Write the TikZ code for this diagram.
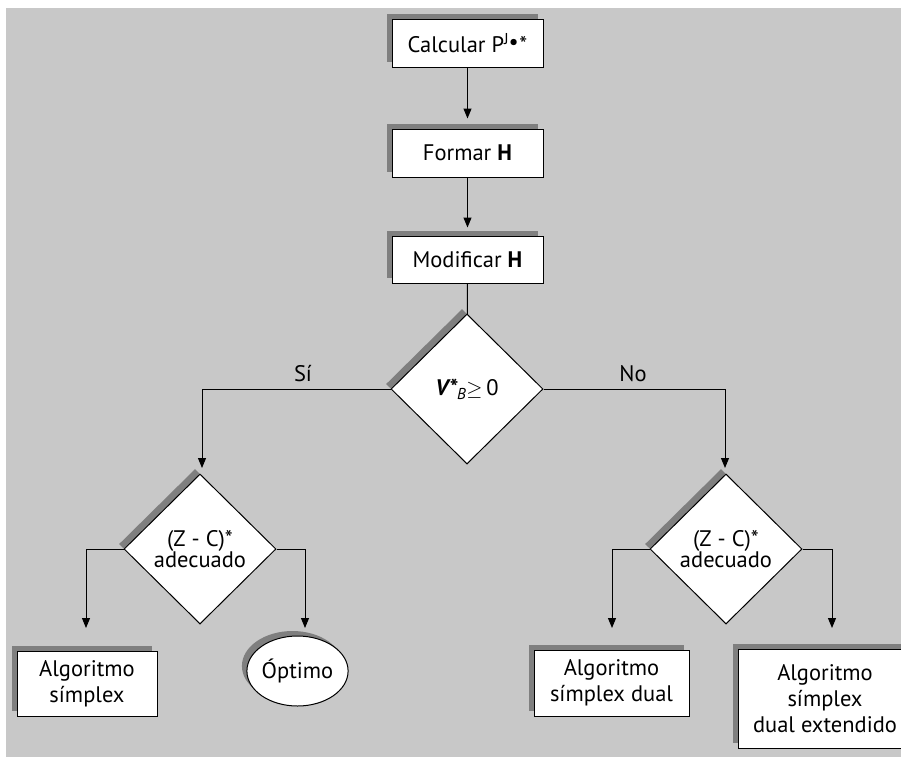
\documentclass[tikz,border=0pt]{standalone}
\usepackage{fontspec}
\setmainfont{PT Sans}
\usetikzlibrary{shapes.geometric,shadows,arrows.meta}
\definecolor{bggray}{HTML}{C8C8C8}
\definecolor{shgray}{HTML}{7F7F7F}
\begin{document}
\begin{tikzpicture}[x=1pt,y=-1pt,
  every node/.style={font=\fontsize{22.5}{26}\selectfont},
  shad/.style={drop shadow={shadow xshift=-5pt,shadow yshift=5pt,fill=shgray,opacity=1}},
  procbox/.style={rectangle,draw=black,fill=white,line width=1pt,inner sep=0pt,align=center,shad},
  decis/.style={diamond,draw=black,fill=white,line width=1pt,inner sep=0pt,align=center,shad,
    font=\fontsize{22.5}{21}\selectfont},
  term/.style={ellipse,draw=black,fill=white,line width=1pt,inner sep=0pt,align=center,shad},
  conn/.style={draw=black,line width=1pt},
  arr/.style={conn,-{Triangle[length=10pt,width=8pt]}},
  lbl/.style={font=\fontsize{22.5}{26}\selectfont}
]
\useasboundingbox (0,0) rectangle (901,756);
\clip (0,0) rectangle (901,756);
\fill[bggray] (6,8) rectangle (905,760);

\node[procbox,minimum width=151pt,minimum height=48pt] (b1) at (467.5,43)
  {Calcular P\textsuperscript{J}\kern-0.5pt\raisebox{0.25ex}{\textbullet}\kern0.5pt*};
\node[procbox,minimum width=151pt,minimum height=48pt] (b2) at (467.5,153) {Formar \textbf{H}};
\node[procbox,minimum width=151pt,minimum height=47pt] (b3) at (467.5,259.5) {Modificar \textbf{H}};

\node[decis,minimum width=152pt,minimum height=150pt] (d1) at (467,389)
  {{\bfseries\itshape V*}\textsubscript{\itshape B}$\geq$\,0};
\node[decis,minimum width=152pt,minimum height=150pt] (d2) at (200,549) {(Z - C)*\\adecuado};
\node[decis,minimum width=152pt,minimum height=150pt] (d3) at (726,549) {(Z - C)*\\adecuado};

\node[procbox,minimum width=140pt,minimum height=65pt] (s1) at (87,683.5) {Algoritmo\\símplex};
\node[term,minimum width=97pt,minimum height=70pt] (op) at (297.5,671) {Óptimo};
\node[procbox,minimum width=155pt,minimum height=66pt] (s2) at (611.5,683) {Algoritmo\\símplex dual};
\node[procbox,minimum width=174pt,minimum height=99pt] (s3) at (825,698.5) {Algoritmo\\símplex\\dual extendido};

\coordinate (t1) at (86,628);
\coordinate (t2) at (305,628);
\coordinate (t3) at (612,628);
\coordinate (t4) at (832,628);
\coordinate (ta) at (202,468);
\coordinate (tb) at (725,468);

\draw[arr,shorten >=10pt] (b1) -- (b2);
\draw[arr,shorten >=8pt] (b2) -- (b3);
\draw[conn] (b3) -- (d1);
\draw[arr] (d1.west) -| (ta);
\draw[arr] (d1.east) -| (tb);
\draw[arr] (d2.west) -| (t1);
\draw[arr] (d2.east) -| (t2);
\draw[arr] (d3.west) -| (t3);
\draw[arr] (d3.east) -| (t4);

\node[lbl] (si) at (303,374) {Sí};
\node[lbl] (no) at (633,374) {No};
\end{tikzpicture}
\end{document}
